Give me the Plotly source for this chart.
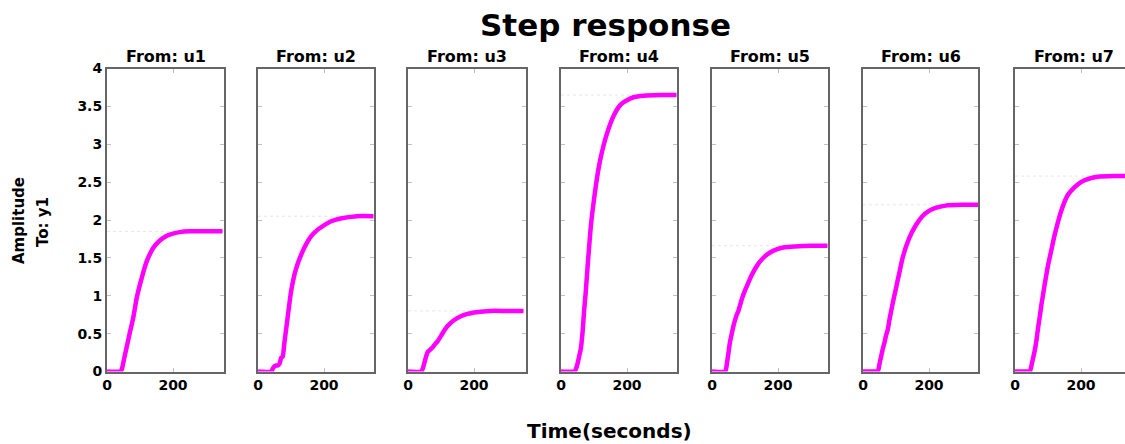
import plotly.graph_objects as go

# ---------------- data ----------------
time_s = [0, 40, 45, 50, 55, 60, 65, 70, 75, 80, 90, 100, 110, 120, 140, 160, 180, 200, 220, 250, 300, 350]

u1 = [0, 0, 0.03, 0.13, 0.23, 0.33, 0.43, 0.53, 0.62, 0.72, 0.97, 1.15, 1.31, 1.45, 1.63, 1.73, 1.79, 1.82, 1.84, 1.85, 1.85, 1.85]
u2 = [0, 0, 0.04, 0.07, 0.08, 0.08, 0.10, 0.18, 0.20, 0.38, 0.72, 1.05, 1.27, 1.42, 1.63, 1.78, 1.87, 1.93, 1.98, 2.02, 2.05, 2.05]
u3 = [0, 0, 0.04, 0.12, 0.20, 0.26, 0.28, 0.30, 0.32, 0.35, 0.40, 0.47, 0.54, 0.60, 0.68, 0.73, 0.76, 0.78, 0.79, 0.80, 0.80, 0.80]
u4 = [0, 0, 0.03, 0.10, 0.20, 0.30, 0.50, 0.80, 1.05, 1.35, 1.90, 2.27, 2.58, 2.82, 3.15, 3.38, 3.52, 3.58, 3.62, 3.64, 3.65, 3.65]
u5 = [0, 0, 0.10, 0.25, 0.40, 0.50, 0.60, 0.68, 0.75, 0.80, 0.95, 1.07, 1.17, 1.27, 1.42, 1.52, 1.58, 1.62, 1.64, 1.65, 1.66, 1.66]
u6 = [0, 0, 0, 0.10, 0.20, 0.30, 0.38, 0.48, 0.55, 0.68, 0.90, 1.10, 1.30, 1.50, 1.76, 1.93, 2.05, 2.12, 2.16, 2.19, 2.20, 2.20]
u7 = [0, 0, 0, 0.08, 0.18, 0.28, 0.41, 0.58, 0.72, 0.88, 1.15, 1.40, 1.60, 1.80, 2.12, 2.33, 2.43, 2.50, 2.54, 2.57, 2.58, 2.58]

series = [u1, u2, u3, u4, u5, u6, u7]
input_names = ["u1", "u2", "u3", "u4", "u5", "u6", "u7"]
steady_state = [1.85, 2.05, 0.80, 3.65, 1.66, 2.20, 2.58]

y_ticks = [0, 0.5, 1, 1.5, 2, 2.5, 3, 3.5, 4]
x_ticks = [0, 200]

# ---------------- layout geometry ----------------
W, H = 1125, 444
panel_px = [(107, 224), (258, 374), (408, 526), (561, 677), (712, 828), (863, 978), (1015, 1125)]
px_per_unit = 0.33
y_top_px, y_bot_px = 68.5, 371.5

FONT = "DejaVu Sans"


def px_x(p):
    return p / W


def px_y(p):
    return 1 - p / H


fig = go.Figure()
layout = dict(
    width=W, height=H,
    margin=dict(l=0, r=0, t=0, b=0, pad=0, autoexpand=False),
    paper_bgcolor="white", plot_bgcolor="white",
    showlegend=False,
    font=dict(family=FONT, color="black"),
)

annotations = []
for i, (vals, name, ss) in enumerate(zip(series, input_names, steady_state)):
    n = i + 1
    xa = "x" if n == 1 else f"x{n}"
    ya = "y" if n == 1 else f"y{n}"
    left, right = panel_px[i]
    xmax = (right - left) / px_per_unit

    # steady-state reference line
    fig.add_trace(go.Scatter(
        x=[0, xmax], y=[ss, ss], mode="lines",
        line=dict(color="#e6e6e6", width=1, dash="dot"),
        xaxis=xa, yaxis=ya, hoverinfo="skip"))
    # step response
    fig.add_trace(go.Scatter(
        x=time_s, y=vals, mode="lines",
        line=dict(color="#ff00ff", width=4.5, shape="spline", smoothing=0.5),
        xaxis=xa, yaxis=ya, cliponaxis=True))

    xkey = "xaxis" if n == 1 else f"xaxis{n}"
    ykey = "yaxis" if n == 1 else f"yaxis{n}"
    layout[xkey] = dict(
        domain=[px_x(left), px_x(right)], anchor=ya,
        range=[0, xmax], tickvals=x_ticks, ticktext=[str(v) for v in x_ticks],
        ticks="inside", ticklen=4, tickcolor="#c0c0c0",
        showline=True, linecolor="#666666", linewidth=2, mirror="ticks",
        showgrid=False, zeroline=False, automargin=False,
        tickfont=dict(family=FONT, size=14, color="black", weight="bold"),
    )
    layout[ykey] = dict(
        domain=[px_y(y_bot_px), px_y(y_top_px)], anchor=xa,
        range=[0, 4], tickvals=y_ticks,
        ticktext=[("%g" % v) for v in y_ticks],
        showticklabels=(n == 1),
        ticks="inside", ticklen=4, tickcolor="#c0c0c0",
        showline=True, linecolor="#666666", linewidth=2,
        mirror=("ticks" if n < 7 else False),
        showgrid=False, zeroline=False, automargin=False,
        tickfont=dict(family=FONT, size=14, color="black", weight="bold"),
    )

    annotations.append(dict(
        text="<b>From: %s</b>" % name, xref="paper", yref="paper",
        x=px_x((left + (right if n < 7 else left + 117)) / 2), y=px_y(56),
        xanchor="center", yanchor="middle", showarrow=False,
        font=dict(family=FONT, size=16, color="black")))

annotations += [
    dict(text="<b>Step response</b>", xref="paper", yref="paper",
         x=px_x(605), y=px_y(25), xanchor="center", yanchor="middle",
         showarrow=False, font=dict(family=FONT, size=31, color="black")),
    dict(text="<b>Time(seconds)</b>", xref="paper", yref="paper",
         x=px_x(609), y=px_y(431), xanchor="center", yanchor="middle",
         showarrow=False, font=dict(family=FONT, size=20, color="black")),
    dict(text="<b>Amplitude</b>", xref="paper", yref="paper",
         x=px_x(19), y=px_y(221), xanchor="center", yanchor="middle",
         textangle=-90, showarrow=False, font=dict(family=FONT, size=15, color="black")),
    dict(text="<b>To: y1</b>", xref="paper", yref="paper",
         x=px_x(43), y=px_y(222), xanchor="center", yanchor="middle",
         textangle=-90, showarrow=False, font=dict(family=FONT, size=15, color="black")),
]
layout["annotations"] = annotations

fig.update_layout(**layout)
fig.write_html("out.html")
